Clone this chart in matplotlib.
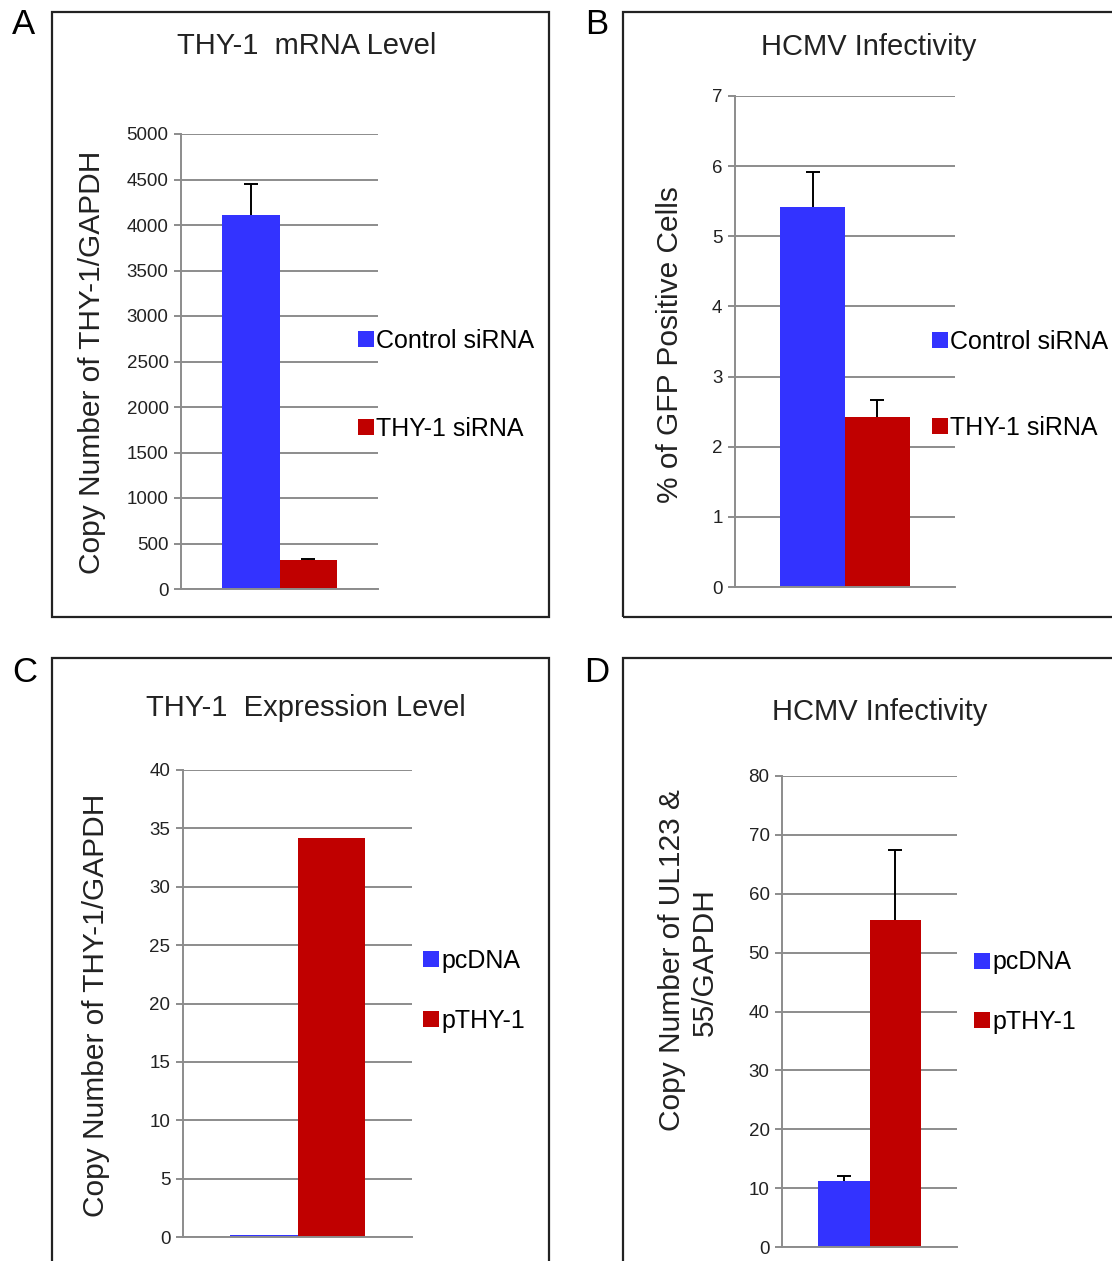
import matplotlib.pyplot as plt
from matplotlib.patches import Rectangle
import numpy as np

plt.rcParams['font.family'] = ['Liberation Sans', 'DejaVu Sans']

W, H = 1112, 1261

# panel A
a_labels = ["Control siRNA", "THY-1 siRNA"]
a_values = [4110, 320]
a_errors = [340, 15]
a_ticks = [0, 500, 1000, 1500, 2000, 2500, 3000, 3500, 4000, 4500, 5000]

# panel B
b_labels = ["Control siRNA", "THY-1 siRNA"]
b_values = [5.42, 2.43]
b_errors = [0.50, 0.23]
b_ticks = [0, 1, 2, 3, 4, 5, 6, 7]

# panel C
c_labels = ["pcDNA", "pTHY-1"]
c_values = [0.15, 34.2]
c_errors = [0, 0]
c_ticks = [0, 5, 10, 15, 20, 25, 30, 35, 40]

# panel D
d_labels = ["pcDNA", "pTHY-1"]
d_values = [11.2, 55.6]
d_errors = [0.8, 11.8]
d_ticks = [0, 10, 20, 30, 40, 50, 60, 70, 80]

colors = ["#3333FF", "#C00000"]
grid_col = "#8C8C8C"


def px_rect(x0, y0, x1, y1):
    return [x0 / W, 1 - y1 / H, (x1 - x0) / W, (y1 - y0) / H]


fig = plt.figure(figsize=(W / 100, H / 100), dpi=100)


def panel(letter, box, letter_xy, title, title_xy, axrect, labels, values, errors,
          ticks, ylabel, ylabel_xy, leg_xy, leg_space):
    x0, y0, x1, y1 = box
    fig.patches.append(Rectangle((x0 / W, 1 - y1 / H), (x1 - x0) / W, (y1 - y0) / H,
                                 transform=fig.transFigure, fill=False,
                                 edgecolor="#222222", linewidth=1.6))
    fig.text(letter_xy[0] / W, 1 - letter_xy[1] / H, letter, fontsize=25,
             ha="center", va="center")
    fig.text(title_xy[0] / W, 1 - title_xy[1] / H, title, fontsize=21,
             ha="center", va="center", color="#222222")

    ax = fig.add_axes(px_rect(*axrect))
    xs = [-0.5, 0.5]
    for i in range(2):
        ax.bar(xs[i], values[i], width=1.0, color=colors[i], label=labels[i],
               zorder=3)
        if errors[i] > 0:
            eb = ax.errorbar(xs[i], values[i], yerr=[[0], [errors[i]]], color="black",
                             capsize=5, elinewidth=1.4, capthick=1.4, zorder=4)
            # plus-only error bar: hide the lower cap
            eb[1][0].set_visible(False)
    ax.set_xlim(-1.7, 1.7)
    ax.set_ylim(ticks[0], ticks[-1])
    ax.set_yticks(ticks)
    ax.set_xticks([])
    ax.yaxis.grid(True, color=grid_col, linewidth=1.4)
    ax.set_axisbelow(True)
    for s in ["top", "right"]:
        ax.spines[s].set_visible(False)
    ax.spines["left"].set_color(grid_col)
    ax.spines["left"].set_linewidth(1.4)
    ax.spines["bottom"].set_color(grid_col)
    ax.spines["bottom"].set_linewidth(1.4)
    ax.tick_params(axis="y", length=5, width=1.4, color=grid_col, labelsize=13.5,
                   labelcolor="#222222", pad=4)
    ax.spines["bottom"].set_zorder(5)

    if isinstance(ylabel, list):
        for j, line in enumerate(ylabel):
            fig.text(ylabel_xy[j][0] / W, 1 - ylabel_xy[j][1] / H, line, fontsize=21.5,
                     rotation=90, ha="center", va="center", color="#222222")
    else:
        fig.text(ylabel_xy[0] / W, 1 - ylabel_xy[1] / H, ylabel, fontsize=21.5,
                 rotation=90, ha="center", va="center", color="#222222")

    ax.legend(loc="center left", bbox_to_anchor=(leg_xy[0] / W, 1 - leg_xy[1] / H),
              bbox_transform=fig.transFigure, frameon=False, fontsize=18,
              handlelength=0.62, handleheight=0.62, handletextpad=0.12,
              labelspacing=leg_space, borderpad=0, borderaxespad=0)
    return ax


panel("A", (52, 12, 549, 617), (23, 25), "THY-1  mRNA Level", (307, 46),
      (181, 134, 378, 589), a_labels, a_values, a_errors, a_ticks,
      "Copy Number of THY-1/GAPDH", (92, 362), (358, 385), 2.56)

panel("B", (623, 12, 1130, 617), (597, 25), "HCMV Infectivity", (869, 47),
      (735, 96, 955, 587), b_labels, b_values, b_errors, b_ticks,
      "% of GFP Positive Cells", (670, 345), (932, 385), 2.48)

panel("C", (52, 658, 549, 1275), (25, 672), "THY-1  Expression Level", (306, 708),
      (183, 770, 412, 1237), c_labels, c_values, c_errors, c_ticks,
      "Copy Number of THY-1/GAPDH", (96, 1005), (423, 991), 1.44)

panel("D", (623, 658, 1130, 1275), (597, 672), "HCMV Infectivity", (880, 712),
      (782, 776, 957, 1247), d_labels, d_values, d_errors, d_ticks,
      ["Copy Number of UL123 &", "55/GAPDH"], [(672, 960), (705, 962)],
      (974, 992), 1.4)

fig.savefig("out.png", dpi=100)
